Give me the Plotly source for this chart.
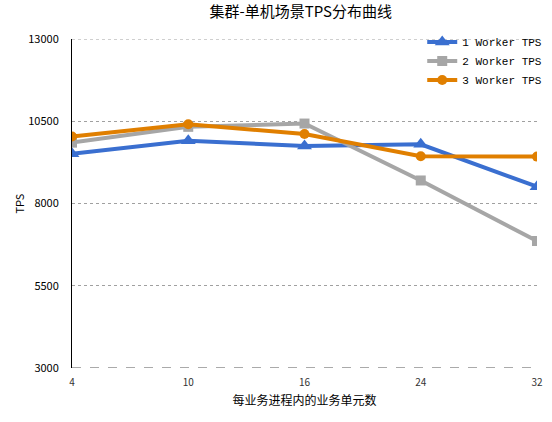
import plotly.graph_objects as go

categories = ["4", "10", "16", "24", "32"]
worker1 = [9510, 9905, 9750, 9800, 8510]
worker2 = [9850, 10330, 10430, 8700, 6860]
worker3 = [10036, 10410, 10110, 9434, 9425]
series_names = ["1 Worker TPS", "2 Worker TPS", "3 Worker TPS"]
y_ticks = [3000, 5500, 8000, 10500, 13000]

colors = ["#3a6fd0", "#a6a6a6", "#e07f00"]
symbols = ["triangle-up", "square", "circle"]

fig = go.Figure()
for name, vals, c, s in zip(series_names, [worker1, worker2, worker3], colors, symbols):
    fig.add_trace(go.Scatter(
        x=list(range(len(categories))), y=vals, name=name, mode="lines+markers",
        line=dict(color=c, width=4),
        marker=dict(symbol=s, size=13 if s == "triangle-up" else 10, color=c,
                    line=dict(width=0)),
    ))

fig.update_layout(
    width=552, height=422,
    margin=dict(l=72, r=15, t=39, b=54, autoexpand=False),
    paper_bgcolor="white", plot_bgcolor="white",
    title=dict(text="集群-单机场景TPS分布曲线", x=0.545, xanchor="center", y=0.985, yanchor="top",
               font=dict(family="Noto Sans CJK SC", size=15, color="black")),
    font=dict(family="Noto Sans CJK SC", size=11, color="black"),
    legend=dict(x=1.022, xanchor="right", y=1.035, yanchor="top",
                bgcolor="rgba(0,0,0,0)", tracegroupgap=0,
                font=dict(family="Liberation Mono", size=11, color="black"),
                itemwidth=30),
    xaxis=dict(tickmode="array", tickvals=list(range(len(categories))), ticktext=categories,
               range=[0, len(categories) - 1], showgrid=False, zeroline=False,
               showline=False, ticks="", ticklabelstandoff=7, automargin=False,
               title=dict(text="每业务进程内的业务单元数", font=dict(size=12), standoff=8),
               tickfont=dict(size=10, color="#333")),
    yaxis=dict(range=[3000, 13000], tickmode="array", tickvals=y_ticks,
               ticktext=[str(v) for v in y_ticks], showgrid=True,
               gridcolor="#a0a0a0", griddash="dot", gridwidth=1,
               zeroline=False, showline=True, linecolor="black", linewidth=1,
               ticks="", ticklen=0, ticklabelstandoff=10, automargin=False,
               tickfont=dict(size=11)),
)

fig.add_annotation(text="TPS", xref="paper", yref="paper", x=-0.116, y=0.5,
                   xanchor="center", yanchor="middle", textangle=-90, showarrow=False,
                   font=dict(size=11, color="black"))

fig.add_shape(type="line", xref="paper", yref="y", x0=0, x1=1, y0=3000, y1=3000,
              line=dict(color="#555", width=1, dash="dash"), layer="below")
fig.add_shape(type="line", xref="paper", yref="y", x0=0, x1=1, y0=13000, y1=13000,
              line=dict(color="#a0a0a0", width=1, dash="dot"), layer="below")

fig.write_html("out.html")
